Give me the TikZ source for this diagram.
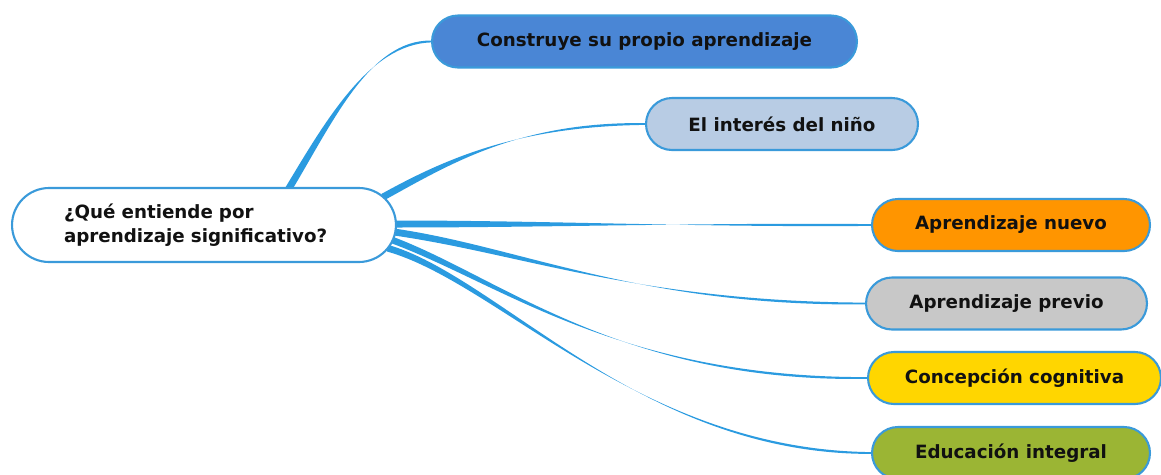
\documentclass[tikz,border=0pt]{standalone}
\usepackage{fontspec}
\setmainfont{DejaVu Sans}
\usetikzlibrary{calc,backgrounds}

\definecolor{linkblue}{HTML}{2B9BE0}
\definecolor{edgeblue}{HTML}{3A9ADA}
\definecolor{inkdark}{HTML}{111111}

% tapered branch: start, control 1, control 2, end, half width at start
\newcommand\branch[5]{%
  \fill[linkblue] ($#1+#5$) .. controls ($#2+#5$) and ($#3+(0,-2.4)$) .. ($#4+(0,-0.9)$)
    -- ($#4+(0,0.9)$) .. controls ($#3+(0,2.4)$) and ($#2-#5$) .. ($#1-#5$) -- cycle;}

\begin{document}
\begin{tikzpicture}[x=0.02cm, y=-0.02cm,
  every node/.style={font=\fontsize{10.4}{14}\selectfont\bfseries, text=inkdark},
  hub/.style={draw=edgeblue, line width=1.2pt, fill=white, minimum width=7.68cm,
    minimum height=1.48cm, rounded corners=0.74cm, align=left, text width=5.6cm},
  leaf/.style={draw=edgeblue, line width=1.2pt, minimum height=1.04cm, rounded corners=0.52cm}]

  \useasboundingbox (0,0) rectangle (1161,474);
  \clip (0,0) rectangle (1161,474);

  \node[hub] (q) at (204,225) {¿Qué entiende por\\aprendizaje significativo?};

  \node[leaf, fill={rgb,255:red,74;green,134;blue,213}, minimum width=8.5cm] (c1) at (644.5,41.5) {Construye su propio aprendizaje};
  \node[leaf, fill={rgb,255:red,184;green,204;blue,228}, minimum width=5.44cm] (c2) at (782,124) {El interés del niño};
  \node[leaf, fill={rgb,255:red,255;green,149;blue,0}, minimum width=5.56cm] (c3) at (1011,225) {Aprendizaje nuevo};
  \node[leaf, fill={rgb,255:red,200;green,200;blue,200}, minimum width=5.62cm] (c4) at (1006.5,303.5) {Aprendizaje previo};
  \node[leaf, fill={rgb,255:red,255;green,214;blue,0}, minimum width=5.86cm] (c5) at (1014.5,378) {Concepción cognitiva};
  \node[leaf, fill={rgb,255:red,155;green,181;blue,52}, minimum width=5.56cm] (c6) at (1011,453) {Educación integral};

  \coordinate (s1) at ($(q.north)+(84,3)$);
  \coordinate (s2) at ($(q.east)+(-14,-28)$);
  \coordinate (s3) at ($(q.east)+(-3,-1)$);
  \coordinate (s4) at ($(q.east)+(-3,7)$);
  \coordinate (s5) at ($(q.east)+(-5,15)$);
  \coordinate (s6) at ($(q.east)+(-10,23)$);

  \begin{scope}[on background layer]
    \branch{(s1)}{(330,120)}{(370,42)}{(c1.west)}{(3,1.8)}
    \branch{(s2)}{(450,160)}{(520,124)}{(c2.west)}{(1.7,3)}
    \branch{(s3)}{(550,224)}{(700,225)}{(c3.west)}{(0,3.5)}
    \branch{(s4)}{(520,250)}{(640,304)}{(c4.west)}{(0,3.5)}
    \branch{(s5)}{(500,280)}{(620,380)}{(c5.west)}{(0,3.5)}
    \branch{(s6)}{(500,280)}{(640,452)}{(c6.west)}{(0,3.5)}
  \end{scope}

\end{tikzpicture}
\end{document}
